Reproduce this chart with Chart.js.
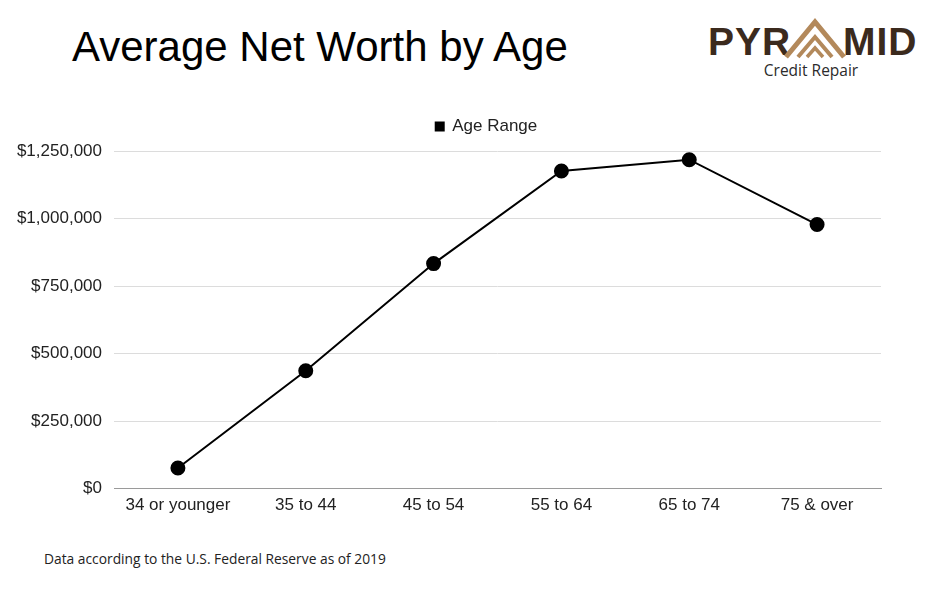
<!DOCTYPE html>
<html>
<head>
<meta charset="utf-8">
<script src="https://cdn.jsdelivr.net/npm/chart.js@4.4.1/dist/chart.umd.min.js"></script>
<style>
  html, body { margin: 0; padding: 0; background: #fff; }
  body { width: 928px; height: 590px; position: relative; overflow: hidden; font-family: "Liberation Sans", Arial, sans-serif; }
  #title { position: absolute; left: 72px; top: 22px; font-size: 42px; color: #000; white-space: nowrap; line-height: 50px; }
  #logo { position: absolute; left: 706px; top: 14px; width: 214px; height: 70px; }
  #logo .word { position: absolute; top: 6px; font-weight: bold; font-size: 39px; color: #3b2a1d; line-height: 44px; letter-spacing: 1px; }
  #logo .sub { position: absolute; left: 0; width: 210px; top: 45px; text-align: center; font-family: "Open Sans", sans-serif; font-size: 15.5px; color: #2b2b2b; }
  #wrap { position: absolute; left: 0; top: 0; width: 928px; height: 529px; }
  #note { position: absolute; left: 44px; top: 549px; font-family: "Open Sans", sans-serif; font-size: 13.8px; color: #222; }
</style>
</head>
<body>
<div id="title">Average Net Worth by Age</div>
<div id="logo">
  <span class="word" style="left:2px">PYR</span>
  <svg style="position:absolute;left:76px;top:2px" width="66" height="44" viewBox="0 0 66 44">
    <polyline points="4,41 33,6 62,41" fill="none" stroke="#b3895b" stroke-width="5"/>
    <polyline points="16,41 33,21 50,41" fill="none" stroke="#b3895b" stroke-width="4"/>
    <polyline points="25,41 33,32 41,41" fill="none" stroke="#b3895b" stroke-width="3.5"/>
  </svg>
  <span class="word" style="left:137px">MID</span>
  <div class="sub">Credit Repair</div>
</div>
<div id="wrap"><canvas id="chart"></canvas></div>
<div id="note">Data according to the U.S. Federal Reserve as of 2019</div>
<script>
const ageRanges = ["34 or younger", "35 to 44", "45 to 54", "55 to 64", "65 to 74", "75 & over"];
const netWorth = [76340, 436190, 833170, 1175900, 1217700, 977600];
const yMax = 1250000;
const yStep = 250000;

// legend sits a bit right of centre and has extra room below it
const legendTweak = {
  id: "legendTweak",
  beforeLayout(chart) {
    const lg = chart.legend;
    if (lg && !lg._tweaked) {
      const fit = lg.fit.bind(lg);
      lg.fit = function () { fit(); this.height += 6; };
      lg._tweaked = true;
    }
  },
  afterLayout(chart) {
    const lg = chart.legend;
    if (!lg) return;
    lg.left += 46;
    lg.right += 46;
    if (lg.legendHitBoxes) lg.legendHitBoxes.forEach(b => { b.left += 46; });
  }
};

const ctx = document.getElementById("chart").getContext("2d");
new Chart(ctx, {
  type: "line",
  data: {
    labels: ageRanges,
    datasets: [{
      label: "Age Range",
      data: netWorth,
      borderColor: "#000",
      backgroundColor: "#000",
      borderWidth: 2,
      pointRadius: 6.5,
      pointBackgroundColor: "#000",
      pointBorderColor: "#000",
      tension: 0
    }]
  },
  options: {
    responsive: true,
    maintainAspectRatio: false,
    animation: false,
    layout: { padding: { top: 96, right: 47, bottom: 6, left: 0 } },
    plugins: {
      legend: {
        position: "top",
        labels: {
          usePointStyle: true,
          pointStyle: "rect",
          boxWidth: 8,
          boxHeight: 8,
          padding: 22,
          color: "#222",
          font: { family: "Liberation Sans", size: 17 }
        }
      },
      tooltip: { enabled: false }
    },
    scales: {
      x: {
        offset: true,
        grid: { display: false, drawTicks: false },
        border: { color: "#9a9a9a", width: 1 },
        ticks: { color: "#222", padding: 7, font: { family: "Liberation Sans", size: 17 } }
      },
      y: {
        min: 0,
        max: yMax,
        grid: { color: "#dcdcdc", drawTicks: false },
        border: { display: false },
        afterFit: (scale) => { scale.width = 114; },
        ticks: {
          stepSize: yStep,
          padding: 12,
          color: "#222",
          font: { family: "Liberation Sans", size: 17 },
          callback: (v) => "$" + Number(v).toLocaleString("en-US")
        }
      }
    }
  },
  plugins: [legendTweak]
});
</script>
</body>
</html>
